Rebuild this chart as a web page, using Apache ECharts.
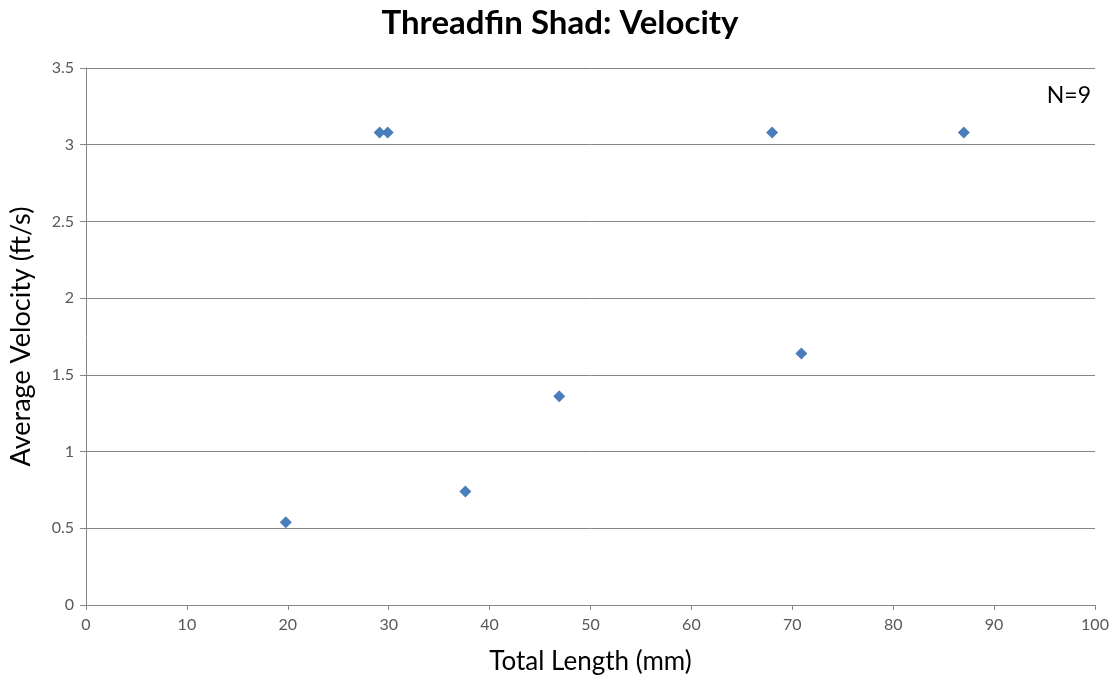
<!DOCTYPE html>
<html><head><meta charset="utf-8">
<script src="https://cdn.jsdelivr.net/npm/echarts@6/dist/echarts.min.js"></script>
<style>html,body{margin:0;padding:0;background:#fff}#c{width:1120px;height:681px}</style>
</head><body><div id="c"></div>
<script>
const lengths = [19.8, 29.1, 29.9, 37.6, 46.9, 68.0, 70.9, 87.0];
const velocities = [0.54, 3.08, 3.08, 0.74, 1.36, 3.08, 1.64, 3.08];
const titleText = 'Threadfin Shad: Velocity';
const noteText = 'N=9';
const xName = 'Total Length (mm)';
const yName = 'Average Velocity (ft/s)';

const chart = echarts.init(document.getElementById('c'));
const font = 'Lato, "Open Sans", sans-serif';
chart.setOption({
  animation: false,
  title: [{text: titleText, left: 'center', top: 2, textStyle:{fontFamily: font, fontSize: 33, fontWeight: 'bold', color:'#000'}},
          {text: noteText, right: 24, top: 79, textStyle:{fontFamily: font, fontSize: 23, fontWeight:'normal', color:'#000'}}],
  grid: {left: 84, right: 25, top: 68, bottom: 76},
  xAxis: {type:'value', min:0, max:100, interval:10, name: xName, nameLocation:'middle', nameGap: 44,
    nameTextStyle:{fontFamily: font, fontSize: 26, color:'#000'},
    axisLine:{show:true, lineStyle:{color:'#868686'}}, axisTick:{show:true, inside:false, length:5, lineStyle:{color:'#868686'}},
    axisLabel:{fontFamily: font, fontSize:16, color:'#595959', margin: 12}, splitLine:{show:false}},
  yAxis: {type:'value', min:0, max:3.5, interval:0.5, name: yName, nameLocation:'middle', nameGap: 51,
    nameTextStyle:{fontFamily: font, fontSize: 27, color:'#000'},
    axisLine:{show:true, lineStyle:{color:'#868686'}}, axisTick:{show:true, inside:false, length:6, lineStyle:{color:'#868686'}},
    axisLabel:{fontFamily: font, fontSize:16, color:'#595959', margin: 12}, splitLine:{show:true, lineStyle:{color:'#868686'}}},
  series: [{type:'scatter', symbol:'diamond', symbolSize: 12, itemStyle:{color:'#4a7ebb', opacity: 1},
    data: lengths.map((x,i)=>[x, velocities[i]])}]
});
</script></body></html>
